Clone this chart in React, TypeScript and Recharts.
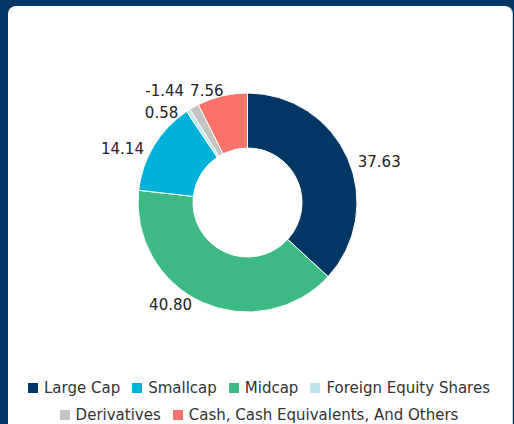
import React from 'react'
import { PieChart, Pie, Cell } from 'recharts'

// legend order
const holdings = [
  'Large Cap',
  'Smallcap',
  'Midcap',
  'Foreign Equity Shares',
  'Derivatives',
  'Cash, Cash Equivalents, And Others',
]
const weights = [37.63, 14.14, 40.80, 0.58, -1.44, 7.56]
const colors = ['#003764', '#00b1d9', '#3dba84', '#bde6ef', '#c4c4c4', '#fb7369']
// order the slices are drawn in, clockwise from the top
const sliceOrder = [0, 2, 1, 3, 4, 5]

const pieData = sliceOrder.map(i => ({
  name: holdings[i],
  value: Math.abs(weights[i]),
  raw: weights[i],
  color: colors[i],
}))

const FONT = '"DejaVu Sans", Verdana, sans-serif'
const NAVY = '#003764'

interface LabelPos { x: number; y: number; anchor: 'start' | 'end'; text: string }

// outside labels, pushed apart when they collide
function layoutLabels(cx: number, cy: number, r: number): LabelPos[] {
  const total = pieData.reduce((s, d) => s + d.value, 0)
  let acc = 0
  const items = pieData.map((d, i) => {
    const theta = ((acc + d.value / 2) / total) * Math.PI * 2
    acc += d.value
    const right = Math.sin(theta) >= 0
    return {
      i,
      right,
      x: cx + r * Math.sin(theta) + (right ? 10 : -10),
      y: cy - r * Math.cos(theta) + 3,
      anchor: (right ? 'start' : 'end') as 'start' | 'end',
      text: d.raw.toFixed(2),
    }
  })
  for (const side of [true, false]) {
    const group = items.filter(it => it.right === side).sort((a, b) => b.y - a.y)
    let prev: (typeof items)[number] | null = null
    for (const it of group) {
      if (prev && it.y > prev.y - 22) {
        const pushed = prev.y - 22
        if (pushed < cy - r - 10) {
          it.y = prev.y
          if (side) { it.anchor = 'end'; it.x = prev.x - 6 }
          else { it.anchor = 'start'; it.x = prev.x + 6 }
        } else {
          it.y = pushed
        }
      }
      prev = it
    }
  }
  return items
}

function renderLabel(props: any) {
  const { cx, cy, outerRadius, index } = props
  const pos = layoutLabels(cx, cy, outerRadius)[index]
  return (
    <text
      x={pos.x}
      y={pos.y}
      textAnchor={pos.anchor}
      dominantBaseline="central"
      fill="#222"
      fontSize={15}
      fontFamily={FONT}
    >
      {pos.text}
    </text>
  )
}

export default function App() {
  return (
    <div style={{ position: 'fixed', inset: 0, background: NAVY, overflow: 'hidden' }}>
      <div
        style={{
          position: 'absolute', left: 8, top: 6, width: 504, height: 440,
          background: '#fff', borderRadius: 8, borderRight: '1px solid #c8cdd3',
        }}
      >
        <div style={{ position: 'absolute', left: 0, top: 0 }}>
          <PieChart width={504} height={360} margin={{ top: 0, right: 0, bottom: 0, left: 0 }}>
            <Pie
              data={pieData}
              dataKey="value"
              nameKey="name"
              cx={239.5}
              cy={196.5}
              innerRadius={54.5}
              outerRadius={109.5}
              startAngle={90}
              endAngle={-270}
              stroke="#fff"
              strokeWidth={1}
              label={renderLabel}
              labelLine={false}
              isAnimationActive={false}
            >
              {pieData.map(d => <Cell key={d.name} fill={d.color} />)}
            </Pie>
          </PieChart>
        </div>
        <div
          style={{
            position: 'absolute', left: 16, top: 370, width: 470,
            display: 'flex', flexWrap: 'wrap', justifyContent: 'center',
            columnGap: 12, rowGap: 3,
            fontFamily: FONT, fontSize: 15, color: '#333',
          }}
        >
          {holdings.map((h, i) => (
            <div key={h} style={{ display: 'flex', alignItems: 'center', height: 24, whiteSpace: 'nowrap' }}>
              <span style={{ width: 10, height: 10, background: colors[i], marginRight: 6, display: 'inline-block' }} />
              {h}
            </div>
          ))}
        </div>
      </div>
    </div>
  )
}
